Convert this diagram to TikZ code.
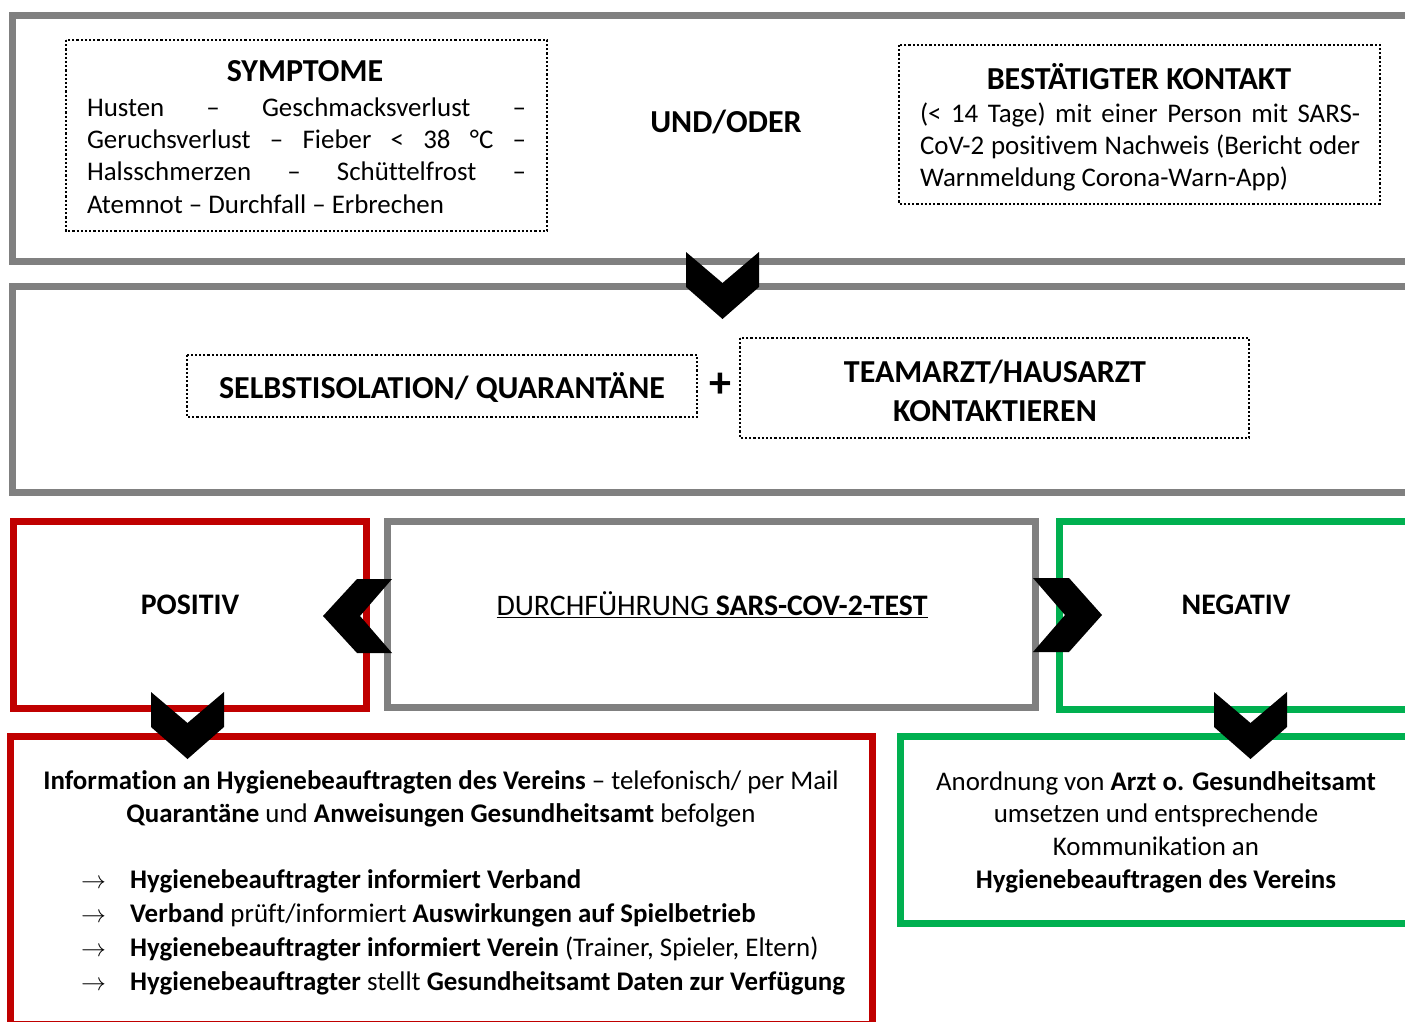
\documentclass[tikz,border=0pt]{standalone}
\usepackage{fontspec}
\setmainfont[Ligatures=NoCommon]{Carlito}
\definecolor{boxgray}{HTML}{808080}
\definecolor{posred}{HTML}{C00000}
\definecolor{neggreen}{HTML}{00B050}
\tikzset{
  grayframe/.style={draw=boxgray, line width=7pt},
  redframe/.style={draw=posred, line width=7pt},
  greenframe/.style={draw=neggreen, line width=7pt},
  dotbox/.style={draw=black, line width=2.2pt, dash pattern=on 2.2pt off 2pt},
  txt/.style={inner sep=0pt, font=\fontsize{26.9}{32.4}\selectfont},
  head/.style={inner sep=0pt, font=\fontsize{32}{39}\selectfont\bfseries},
  midhead/.style={inner sep=0pt, font=\fontsize{29.8}{36}\selectfont\bfseries},
  chevdown/.pic={\fill[black] (-36.5,0) -- (0,31) -- (36.5,0) -- (36.5,35) -- (0,67) -- (-36.5,35) -- cycle;},
  chevleft/.pic={\fill[black] (0,-37) -- (-35,-37) -- (-69,0) -- (-35,37) -- (0,37) -- (-32,0) -- cycle;},
  chevright/.pic={\fill[black] (0,-37) -- (36,-37) -- (69,0) -- (36,37) -- (0,37) -- (32,0) -- cycle;},
}
\begin{document}
\begin{tikzpicture}[x=1pt,y=-1pt]
\useasboundingbox (0,0) rectangle (1405,1022);
\fill[white] (0,0) rectangle (1405,1022);
% frames
\draw[grayframe] (12.5,16) rectangle (1420,261);
\draw[grayframe] (12.5,286) rectangle (1420,492.5);
\draw[redframe] (13.5,521.5) rectangle (366,708.5);
\draw[grayframe] (387.5,521.5) rectangle (1035.5,707.5);
\draw[greenframe] (1059.5,521) rectangle (1420,709);
\draw[redframe] (10.5,736) rectangle (872,1024);
\draw[greenframe] (900,736) rectangle (1420,923);
% dotted boxes
\draw[dotbox] (66,40) rectangle (547,231);
\draw[dotbox] (899,45) rectangle (1380,204);
\draw[dotbox] (187,355) rectangle (697,417);
\draw[dotbox] (740,338) rectangle (1249,438);
% texts
\node[head] (symtitle) at (305,71) {SYMPTOME};
\node[txt, align=left] (symbody) at (306.5,155.5) {%
\makebox[439pt][s]{Husten – Geschmacksverlust –}\\
\makebox[439pt][s]{Geruchsverlust – Fieber < 38 °C –}\\
\makebox[439pt][s]{Halsschmerzen – Schüttelfrost –}\\
\makebox[439pt][l]{Atemnot – Durchfall – Erbrechen}};
\node[head] (undoder) at (726,122) {UND/ODER};
\node[head] (kontitle) at (1139,77) {BESTÄTIGTER KONTAKT};
\node[txt, align=left] (konbody) at (1140,147) {%
\makebox[440pt][s]{(< 14 Tage) mit einer Person mit SARS-}\\
\makebox[440pt][s]{CoV-2 positivem Nachweis (Bericht oder}\\
\makebox[440pt][l]{Warnmeldung Corona-Warn-App)}};
\node[head] (selbst) at (442,387) {SELBSTISOLATION/ QUARANTÄNE};
\node[head, font=\fontsize{44}{46}\selectfont\bfseries] (plus) at (720,385) {+};
\node[head, align=center] (arzt) at (995,390.5) {TEAMARZT/HAUSARZT\\KONTAKTIEREN};
\node[midhead] (positiv) at (190,605) {POSITIV};
\node[txt, font=\fontsize{29.8}{36}\selectfont] (test) at (712,605) {\underline{DURCHFÜHRUNG \textbf{SARS-COV-2-TEST}}};
\node[midhead] (negativ) at (1236,605) {NEGATIV};
\node[txt, align=center, font=\fontsize{26.9}{33}\selectfont] (info) at (441,798.5) {%
\textbf{Information an Hygienebeauftragten des Vereins} – telefonisch/ per Mail\\
\textbf{Quarantäne} und \textbf{Anweisungen Gesundheitsamt} befolgen};
\node[txt, align=left, font=\fontsize{26.9}{34}\selectfont, anchor=west] (liste) at (81,932) {%
\makebox[49pt][l]{$\rightarrow$}\textbf{Hygienebeauftragter informiert Verband}\\
\makebox[49pt][l]{$\rightarrow$}\textbf{Verband} prüft/informiert \textbf{Auswirkungen auf Spielbetrieb}\\
\makebox[49pt][l]{$\rightarrow$}\textbf{Hygienebeauftragter informiert Verein} (Trainer, Spieler, Eltern)\\
\makebox[49pt][l]{$\rightarrow$}\textbf{Hygienebeauftragter} stellt \textbf{Gesundheitsamt Daten zur Verfügung}};
\node[txt, align=center, font=\fontsize{26.9}{32.7}\selectfont] (anord) at (1156,832) {%
Anordnung von \textbf{Arzt o. Gesundheitsamt}\\
umsetzen und entsprechende\\
Kommunikation an\\
\textbf{Hygienebeauftragen des Vereins}};
% chevrons
\pic at (722.5,252) {chevdown};
\pic at (392,616) {chevleft};
\pic at (1033,615) {chevright};
\pic at (187.5,692) {chevdown};
\pic at (1250.5,692) {chevdown};
\end{tikzpicture}
\end{document}
